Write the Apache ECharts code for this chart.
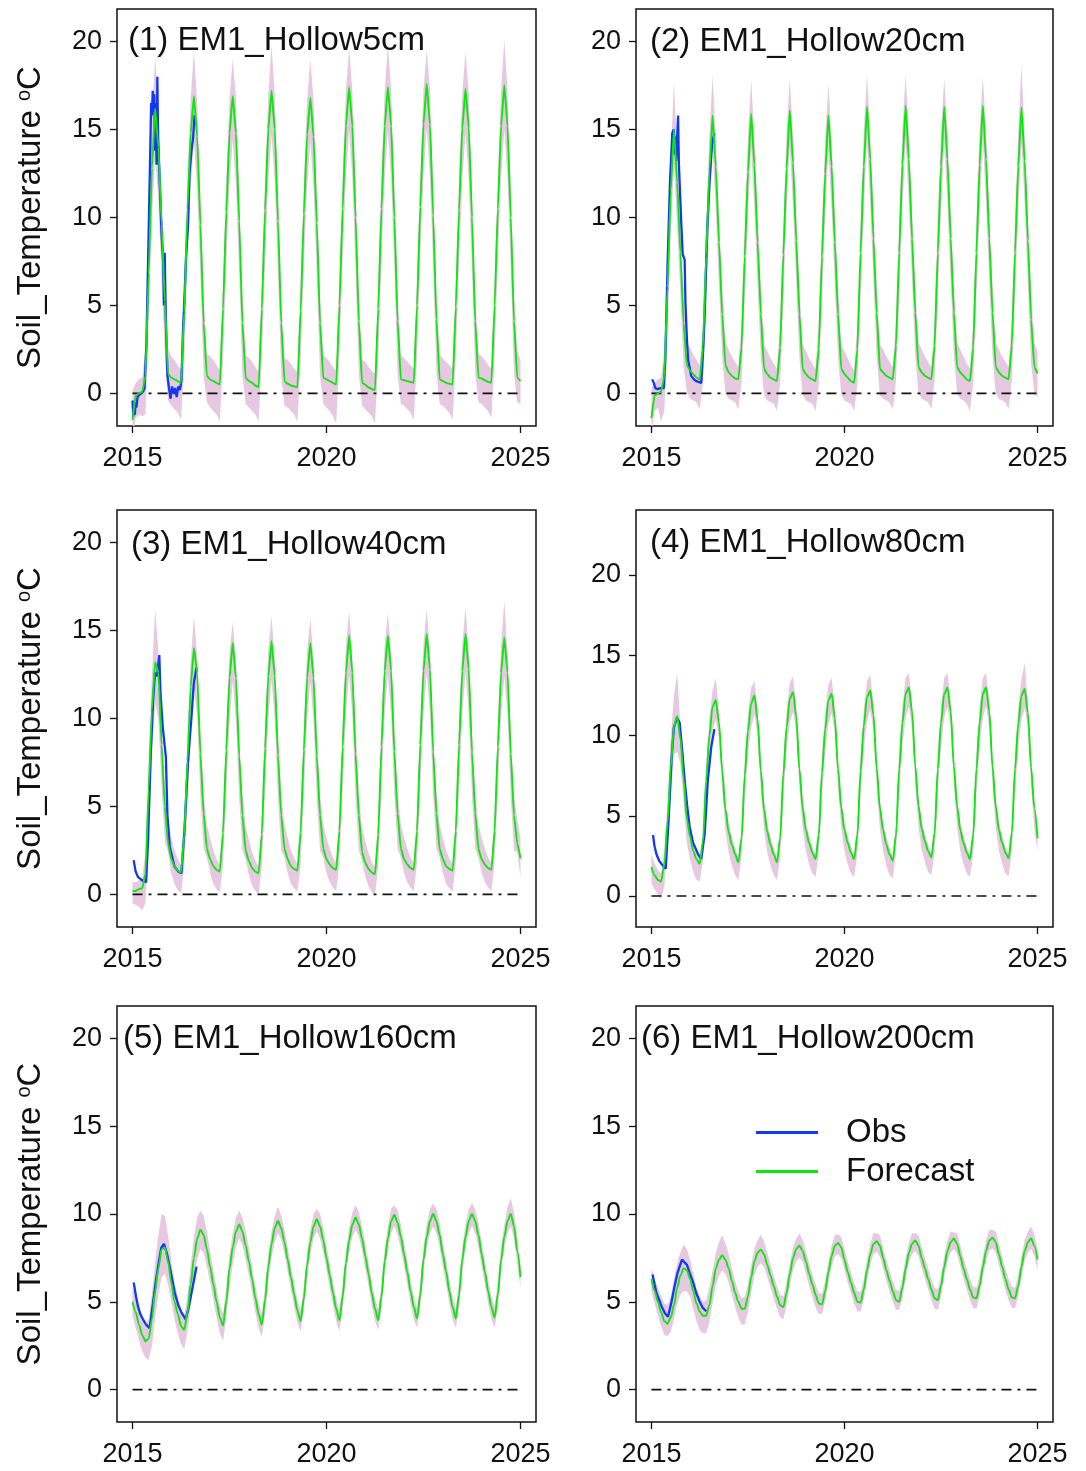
<!DOCTYPE html>
<html>
<head>
<meta charset="utf-8">
<script src="https://cdn.jsdelivr.net/npm/echarts@6/dist/echarts.min.js"></script>
<style>
  html, body { margin: 0; padding: 0; background: #fff; }
  #chart { width: 1086px; height: 1471px; }
</style>
</head>
<body>
<div id="chart"></div>
<script>
// Soil temperature forecasts, six depths, monthly values 2015.0 .. 2025.0 (121 points).

const xTicks = [2015, 2020, 2025];
const yTicks = [0, 5, 10, 15, 20];
const zeroLine = [[2015, 0], [2025, 0]];

const panelTitles = [
  "(1) EM1_Hollow5cm", "(2) EM1_Hollow20cm", "(3) EM1_Hollow40cm",
  "(4) EM1_Hollow80cm", "(5) EM1_Hollow160cm", "(6) EM1_Hollow200cm",
];

// (1) 5 cm
const p1Forecast = [
  -1.5, -0.1, 0.0, 0.1, 1.0, 6.8, 12.8, 16.2, 14.0, 9.6, 5.2, 1.1,
  0.9, 0.8, 0.7, 0.6, 4.6, 10.5, 14.8, 16.9, 14.6, 9.6, 4.0, 1.0,
  0.8, 0.7, 0.6, 0.5, 4.8, 10.3, 14.8, 16.9, 14.8, 9.8, 4.0, 0.9,
  0.7, 0.6, 0.45, 0.35, 4.8, 10.4, 15.0, 17.2, 15.0, 9.8, 4.0, 0.7,
  0.55, 0.45, 0.4, 0.35, 4.7, 10.2, 14.7, 16.8, 14.6, 9.7, 4.0, 0.9,
  0.8, 0.7, 0.6, 0.5, 5.0, 10.5, 15.2, 17.4, 15.2, 10.0, 4.1, 0.6,
  0.5, 0.35, 0.25, 0.2, 4.8, 10.5, 15.2, 17.4, 15.2, 10.0, 4.1, 0.8,
  0.75, 0.7, 0.65, 0.6, 5.0, 10.6, 15.3, 17.6, 15.3, 10.1, 4.2, 0.8,
  0.7, 0.6, 0.55, 0.5, 4.9, 10.4, 15.1, 17.3, 15.1, 10.0, 4.1, 0.9,
  0.85, 0.75, 0.65, 0.6, 5.0, 10.5, 15.2, 17.5, 15.2, 10.0, 4.1, 0.9,
  0.7,
];
const p1Upper = [
  0.2, 0.6, 0.8, 0.9, 2.5, 9.0, 15.5, 19.2, 16.0, 11.5, 7.0, 2.6,
  2.1, 1.9, 1.6, 1.3, 6.3, 12.3, 16.8, 19.5, 16.5, 11.3, 5.5, 2.3,
  2.1, 1.9, 1.6, 1.3, 6.3, 12.1, 16.8, 19.0, 16.8, 11.3, 5.5, 2.2,
  2.0, 1.8, 1.5, 1.2, 6.3, 12.2, 17.0, 19.8, 17.0, 11.3, 5.5, 2.0,
  1.9, 1.7, 1.4, 1.2, 6.2, 12.0, 16.7, 19.0, 16.6, 11.2, 5.5, 2.2,
  2.0, 1.8, 1.5, 1.3, 6.5, 12.3, 17.2, 19.6, 17.2, 11.5, 5.6, 1.9,
  1.8, 1.5, 1.3, 1.1, 6.3, 12.3, 17.2, 19.8, 17.2, 11.5, 5.6, 2.2,
  2.0, 1.8, 1.6, 1.4, 6.5, 12.4, 17.3, 19.5, 17.3, 11.6, 5.7, 2.2,
  2.0, 1.8, 1.6, 1.4, 6.4, 12.2, 17.1, 19.4, 17.1, 11.5, 5.6, 2.3,
  2.1, 1.9, 1.6, 1.4, 6.5, 12.3, 17.2, 20.1, 17.2, 11.5, 5.6, 2.4,
  1.9,
];
const p1Lower = [
  -2.5, -1.4, -1.2, -1.3, -1.2, 3.8, 9.8, 13.5, 11.0, 6.6, 2.2, -0.4,
  -0.7, -0.9, -1.1, -1.5, 1.6, 7.5, 11.8, 14.4, 11.6, 6.6, 1.0, -0.5,
  -0.8, -1.0, -1.2, -1.6, 1.8, 7.3, 11.8, 14.4, 11.8, 6.8, 1.0, -0.6,
  -0.8, -1.0, -1.2, -1.6, 1.8, 7.4, 12.0, 14.7, 12.0, 6.8, 1.0, -0.7,
  -0.8, -1.0, -1.2, -1.6, 1.7, 7.2, 11.7, 14.3, 11.6, 6.7, 1.0, -0.6,
  -0.8, -1.0, -1.3, -1.7, 2.0, 7.5, 12.2, 14.9, 12.2, 7.0, 1.1, -0.7,
  -0.9, -1.1, -1.3, -1.7, 1.8, 7.5, 12.2, 14.9, 12.2, 7.0, 1.1, -0.6,
  -0.7, -0.9, -1.1, -1.5, 2.0, 7.6, 12.3, 15.1, 12.3, 7.1, 1.2, -0.6,
  -0.7, -0.9, -1.1, -1.5, 1.9, 7.4, 12.1, 14.8, 12.1, 7.0, 1.1, -0.5,
  -0.6, -0.8, -1.0, -1.4, 2.0, 7.5, 12.2, 15.0, 12.2, 7.0, 1.1, -0.5,
  -0.6,
];
const p1Obs = [
  [2015.00, -0.4], [2015.02, -1.3], [2015.04, -0.9], [2015.06, -1.2], [2015.08, -0.5],
  [2015.10, -0.8], [2015.13, -0.2], [2015.17, -0.3], [2015.21, 0.0], [2015.27, 0.1],
  [2015.31, 0.3], [2015.36, 3.0], [2015.41, 8.5], [2015.45, 13.0], [2015.48, 16.5],
  [2015.50, 15.8], [2015.52, 17.2], [2015.54, 16.0], [2015.56, 17.0], [2015.58, 13.8],
  [2015.60, 16.5], [2015.62, 13.0], [2015.64, 18.0], [2015.66, 14.5], [2015.70, 12.0],
  [2015.75, 9.0], [2015.79, 7.5], [2015.81, 5.0], [2015.83, 8.0], [2015.86, 4.0],
  [2015.90, 1.0], [2015.94, 0.3], [2015.98, -0.3], [2016.02, 0.4], [2016.06, 0.0],
  [2016.10, 0.3], [2016.14, -0.2], [2016.18, 0.4], [2016.22, 0.2], [2016.26, 0.7],
  [2016.30, 3.5], [2016.34, 5.5], [2016.38, 7.8], [2016.43, 9.5], [2016.47, 12.5],
  [2016.52, 13.8], [2016.56, 14.5], [2016.60, 15.8], [2016.63, 15.3],
];

// (2) 20 cm
const p2Forecast = [
  -1.4, -0.1, 0.0, 0.1, 1.0, 6.0, 11.5, 15.0, 12.0, 8.0, 4.0, 1.6,
  1.3, 1.1, 0.9, 0.8, 2.6, 7.8, 12.6, 15.8, 12.9, 8.6, 4.5, 1.6,
  1.2, 1.0, 0.85, 0.8, 2.6, 7.8, 12.6, 15.9, 13.0, 8.6, 4.5, 1.4,
  1.1, 0.9, 0.8, 0.7, 2.6, 7.9, 12.8, 16.1, 13.1, 8.7, 4.5, 1.4,
  1.1, 0.9, 0.8, 0.7, 2.5, 7.8, 12.5, 15.8, 12.9, 8.6, 4.5, 1.4,
  1.1, 0.9, 0.7, 0.6, 2.5, 8.0, 12.9, 16.3, 13.3, 8.8, 4.6, 1.4,
  1.2, 1.0, 0.9, 0.8, 2.7, 8.0, 13.0, 16.35, 13.3, 8.8, 4.6, 1.5,
  1.2, 1.0, 0.9, 0.8, 2.7, 8.0, 12.9, 16.3, 13.3, 8.8, 4.6, 1.5,
  1.2, 1.0, 0.8, 0.7, 2.6, 8.0, 13.0, 16.35, 13.3, 8.8, 4.6, 1.5,
  1.2, 1.0, 0.9, 0.8, 2.7, 8.0, 12.9, 16.25, 13.2, 8.7, 4.2, 1.5,
  1.14,
];
const p2Upper = [
  0.3, 0.6, 0.8, 0.9, 2.5, 7.8, 13.5, 17.7, 13.5, 9.5, 5.5, 2.9,
  2.6, 2.2, 1.9, 1.6, 4.1, 9.6, 14.6, 18.1, 14.4, 10.1, 6.0, 2.9,
  2.5, 2.1, 1.8, 1.5, 4.1, 9.6, 14.6, 17.8, 14.5, 10.1, 6.0, 2.8,
  2.4, 2.0, 1.7, 1.4, 4.1, 9.7, 14.8, 17.9, 14.6, 10.2, 6.0, 2.8,
  2.4, 2.0, 1.7, 1.4, 4.0, 9.6, 14.5, 17.6, 14.4, 10.1, 6.0, 2.8,
  2.4, 2.0, 1.6, 1.3, 4.0, 9.8, 14.9, 18.1, 14.8, 10.3, 6.1, 2.8,
  2.5, 2.1, 1.8, 1.5, 4.2, 9.8, 15.0, 18.1, 14.8, 10.3, 6.1, 2.9,
  2.5, 2.1, 1.8, 1.5, 4.2, 9.8, 14.9, 17.9, 14.8, 10.3, 6.1, 2.9,
  2.5, 2.1, 1.7, 1.4, 4.1, 9.8, 15.0, 18.0, 14.8, 10.3, 6.1, 2.9,
  2.5, 2.1, 1.8, 1.5, 4.2, 9.8, 14.9, 18.65, 14.7, 10.2, 5.7, 2.9,
  2.4,
];
const p2Lower = [
  -2.2, -1.0, -0.8, -1.6, -1.0, 3.5, 9.0, 13.0, 9.5, 5.5, 1.5, 0.1,
  -0.3, -0.4, -0.5, -0.9, 0.6, 5.3, 10.1, 13.8, 10.4, 6.1, 2.0, 0.0,
  -0.3, -0.4, -0.5, -0.9, 0.6, 5.3, 10.1, 13.9, 10.5, 6.1, 2.0, -0.1,
  -0.4, -0.5, -0.6, -1.0, 0.6, 5.4, 10.3, 14.1, 10.6, 6.2, 2.0, -0.1,
  -0.4, -0.5, -0.6, -1.0, 0.5, 5.3, 10.0, 13.8, 10.4, 6.1, 2.0, -0.1,
  -0.4, -0.5, -0.6, -1.0, 0.5, 5.5, 10.4, 14.3, 10.8, 6.3, 2.1, -0.1,
  -0.3, -0.4, -0.5, -0.9, 0.7, 5.5, 10.5, 14.35, 10.8, 6.3, 2.1, 0.0,
  -0.3, -0.4, -0.5, -0.9, 0.7, 5.5, 10.4, 14.3, 10.8, 6.3, 2.1, 0.0,
  -0.3, -0.4, -0.6, -1.0, 0.6, 5.5, 10.5, 14.35, 10.8, 6.3, 2.1, 0.0,
  -0.3, -0.4, -0.5, -0.9, 0.7, 5.5, 10.4, 14.25, 10.7, 6.2, 1.7, 0.0,
  -0.2,
];
const p2Obs = [
  [2015.02, 0.8], [2015.06, 0.6], [2015.10, 0.3], [2015.16, 0.25], [2015.24, 0.3],
  [2015.32, 0.3], [2015.36, 2.0], [2015.42, 7.5], [2015.48, 12.0], [2015.54, 14.8],
  [2015.58, 15.0], [2015.60, 13.6], [2015.62, 14.6], [2015.64, 13.2], [2015.66, 14.3],
  [2015.69, 15.8], [2015.71, 13.1], [2015.77, 9.8], [2015.81, 7.9], [2015.86, 7.6],
  [2015.88, 5.2], [2015.92, 3.0], [2015.95, 1.9], [2016.03, 1.0], [2016.10, 0.8],
  [2016.16, 0.7], [2016.29, 0.6], [2016.34, 2.5], [2016.38, 4.5], [2016.44, 9.0],
  [2016.50, 11.9], [2016.57, 14.2], [2016.63, 14.8],
];

// (3) 40 cm
const p3Forecast = [
  0.2, 0.2, 0.3, 0.35, 1.2, 6.0, 10.5, 13.2, 12.6, 8.5, 5.0, 2.9,
  2.0, 1.6, 1.35, 1.25, 3.4, 7.6, 11.8, 14.0, 12.6, 8.0, 4.6, 2.6,
  2.0, 1.6, 1.4, 1.3, 3.5, 8.2, 12.3, 14.3, 12.3, 7.9, 4.5, 2.5,
  1.9, 1.5, 1.3, 1.2, 3.4, 8.3, 12.4, 14.4, 12.4, 7.9, 4.5, 2.6,
  2.0, 1.6, 1.45, 1.35, 3.5, 8.2, 12.3, 14.3, 12.3, 7.9, 4.5, 2.6,
  2.0, 1.7, 1.5, 1.4, 3.6, 8.4, 12.6, 14.7, 12.6, 8.0, 4.5, 2.4,
  1.8, 1.45, 1.25, 1.15, 3.4, 8.4, 12.7, 14.7, 12.7, 8.1, 4.6, 2.6,
  2.0, 1.7, 1.5, 1.4, 3.6, 8.5, 12.7, 14.8, 12.8, 8.1, 4.6, 2.6,
  2.0, 1.6, 1.45, 1.35, 3.6, 8.5, 12.7, 14.8, 12.8, 8.1, 4.6, 2.6,
  2.0, 1.7, 1.5, 1.4, 3.6, 8.4, 12.6, 14.6, 12.6, 8.0, 4.5, 2.9,
  2.05,
];
const p3Upper = [
  0.7, 0.7, 0.8, 0.9, 2.5, 7.5, 12.5, 16.2, 13.8, 9.5, 6.2, 4.3,
  3.2, 2.5, 2.0, 1.7, 4.4, 8.9, 13.3, 15.8, 13.6, 9.0, 5.8, 4.0,
  3.2, 2.5, 2.0, 1.7, 4.5, 9.5, 13.8, 15.5, 13.3, 8.9, 5.7, 3.9,
  3.1, 2.4, 1.9, 1.6, 4.4, 9.6, 13.9, 15.8, 13.4, 8.9, 5.7, 4.0,
  3.2, 2.5, 2.05, 1.75, 4.5, 9.5, 13.8, 15.7, 13.3, 8.9, 5.7, 4.0,
  3.2, 2.6, 2.1, 1.8, 4.6, 9.7, 14.1, 16.1, 13.6, 9.0, 5.7, 3.8,
  3.0, 2.35, 1.85, 1.55, 4.4, 9.7, 14.2, 16.0, 13.7, 9.1, 5.8, 4.0,
  3.2, 2.6, 2.1, 1.8, 4.6, 9.8, 14.2, 16.2, 13.8, 9.1, 5.8, 4.0,
  3.2, 2.5, 2.05, 1.75, 4.6, 9.8, 14.2, 16.3, 13.8, 9.1, 5.8, 4.0,
  3.2, 2.6, 2.1, 1.8, 4.6, 9.7, 14.1, 16.7, 13.6, 9.0, 5.7, 4.3,
  3.2,
];
const p3Lower = [
  -0.5, -0.6, -0.7, -0.9, -0.5, 3.5, 8.0, 10.8, 10.0, 6.0, 3.0, 2.4,
  1.2, 0.6, 0.25, 0.05, 1.6, 5.1, 9.3, 11.8, 10.1, 5.5, 2.6, 2.1,
  1.2, 0.6, 0.3, 0.1, 1.7, 5.7, 9.8, 12.1, 9.8, 5.4, 2.5, 2.0,
  1.1, 0.5, 0.2, 0.0, 1.6, 5.8, 9.9, 12.2, 9.9, 5.4, 2.5, 2.1,
  1.2, 0.6, 0.35, 0.15, 1.7, 5.7, 9.8, 12.1, 9.8, 5.4, 2.5, 2.1,
  1.2, 0.7, 0.4, 0.2, 1.8, 5.9, 10.1, 12.5, 10.1, 5.5, 2.5, 1.9,
  1.0, 0.45, 0.15, -0.05, 1.6, 5.9, 10.2, 12.5, 10.2, 5.6, 2.6, 2.1,
  1.2, 0.7, 0.4, 0.2, 1.8, 6.0, 10.2, 12.6, 10.3, 5.6, 2.6, 2.1,
  1.2, 0.6, 0.35, 0.15, 1.8, 6.0, 10.2, 12.6, 10.3, 5.6, 2.6, 2.1,
  1.2, 0.7, 0.4, 0.2, 1.8, 5.9, 10.1, 12.4, 10.1, 5.5, 2.5, 2.4,
  1.0,
];
const p3Obs = [
  [2015.03, 1.95], [2015.08, 1.3], [2015.14, 1.0], [2015.25, 0.8], [2015.35, 0.7],
  [2015.40, 3.0], [2015.47, 8.0], [2015.53, 11.0], [2015.58, 12.6], [2015.63, 12.4],
  [2015.66, 13.0], [2015.69, 13.6], [2015.72, 11.5], [2015.78, 9.5], [2015.86, 7.8],
  [2015.90, 4.5], [2015.96, 2.7], [2016.08, 1.6], [2016.18, 1.3], [2016.26, 1.2],
  [2016.34, 3.7], [2016.43, 7.5], [2016.52, 10.1], [2016.58, 12.0], [2016.65, 12.9],
];

// (4) 80 cm
const p4Forecast = [
  1.8, 1.3, 1.0, 0.9, 2.0, 4.6, 8.0, 10.6, 11.2, 9.8, 7.3, 4.8,
  3.7, 2.8, 2.3, 2.0, 3.4, 7.2, 10.0, 11.8, 12.2, 10.8, 7.8, 5.4,
  4.0, 3.2, 2.6, 2.1, 3.6, 7.5, 10.3, 12.0, 12.5, 11.0, 7.8, 5.4,
  4.0, 3.2, 2.6, 2.1, 3.6, 7.6, 10.5, 12.3, 12.7, 11.2, 7.9, 5.5,
  4.1, 3.3, 2.7, 2.3, 3.8, 7.7, 10.4, 12.2, 12.6, 11.1, 7.9, 5.5,
  4.1, 3.3, 2.7, 2.3, 3.8, 7.8, 10.6, 12.4, 12.8, 11.3, 8.0, 5.5,
  4.1, 3.2, 2.6, 2.2, 3.8, 7.9, 10.8, 12.6, 13.0, 11.5, 8.1, 5.6,
  4.2, 3.4, 2.8, 2.4, 3.9, 7.9, 10.8, 12.6, 13.0, 11.5, 8.1, 5.6,
  4.1, 3.3, 2.7, 2.3, 3.8, 7.9, 10.8, 12.6, 13.0, 11.5, 8.1, 5.6,
  4.1, 3.3, 2.7, 2.35, 3.9, 7.9, 10.7, 12.5, 12.9, 11.4, 8.0, 5.5,
  3.6,
];
const p4Upper = [
  2.6, 2.0, 1.6, 1.4, 2.8, 6.0, 9.8, 12.5, 13.9, 10.6, 8.0, 5.4,
  4.2, 3.3, 2.7, 2.3, 4.0, 8.2, 11.0, 12.8, 13.6, 11.4, 8.3, 5.9,
  4.5, 3.7, 3.0, 2.4, 4.2, 8.5, 11.3, 13.0, 13.4, 11.6, 8.3, 5.9,
  4.5, 3.7, 3.0, 2.4, 4.2, 8.6, 11.5, 13.3, 13.7, 11.8, 8.4, 6.0,
  4.6, 3.8, 3.1, 2.6, 4.4, 8.7, 11.4, 13.2, 13.6, 11.7, 8.4, 6.0,
  4.6, 3.8, 3.1, 2.6, 4.4, 8.8, 11.6, 13.4, 13.8, 11.9, 8.5, 6.0,
  4.6, 3.7, 3.0, 2.5, 4.4, 8.9, 11.8, 13.6, 13.9, 12.1, 8.6, 6.1,
  4.7, 3.9, 3.2, 2.7, 4.5, 8.9, 11.8, 13.6, 13.9, 12.1, 8.6, 6.1,
  4.6, 3.8, 3.1, 2.6, 4.4, 8.9, 11.8, 13.6, 13.9, 12.1, 8.6, 6.1,
  4.6, 3.8, 3.1, 2.65, 4.5, 8.9, 11.7, 13.5, 14.5, 12.0, 8.5, 6.0,
  4.0,
];
const p4Lower = [
  0.8, 0.4, 0.1, -0.2, 0.6, 3.0, 6.2, 8.8, 9.0, 8.2, 5.8, 3.3,
  2.3, 1.5, 1.0, 0.9, 2.2, 5.7, 8.5, 10.3, 11.0, 9.8, 6.6, 4.1,
  2.7, 1.9, 1.3, 1.0, 2.4, 6.0, 8.8, 10.5, 11.3, 10.0, 6.6, 4.1,
  2.7, 1.9, 1.3, 1.0, 2.4, 6.1, 9.0, 10.8, 11.5, 10.2, 6.7, 4.2,
  2.8, 2.0, 1.4, 1.2, 2.6, 6.2, 8.9, 10.7, 11.4, 10.1, 6.7, 4.2,
  2.8, 2.0, 1.4, 1.2, 2.6, 6.3, 9.1, 10.9, 11.6, 10.3, 6.8, 4.2,
  2.8, 1.9, 1.3, 1.1, 2.6, 6.4, 9.3, 11.1, 11.8, 10.5, 6.9, 4.3,
  2.9, 2.1, 1.5, 1.3, 2.7, 6.4, 9.3, 11.1, 11.8, 10.5, 6.9, 4.3,
  2.8, 2.0, 1.4, 1.2, 2.6, 6.4, 9.3, 11.1, 11.8, 10.5, 6.9, 4.3,
  2.8, 2.0, 1.4, 1.25, 2.7, 6.4, 9.2, 11.0, 11.7, 10.4, 6.8, 4.2,
  2.8,
];
const p4Obs = [
  [2015.04, 3.8], [2015.08, 3.1], [2015.13, 2.6], [2015.20, 2.2], [2015.26, 2.0],
  [2015.37, 1.7], [2015.45, 5.0], [2015.52, 8.5], [2015.58, 10.5], [2015.66, 11.1],
  [2015.73, 10.8], [2015.80, 9.0], [2015.86, 7.2], [2015.93, 5.5], [2015.99, 4.3],
  [2016.08, 3.3], [2016.21, 2.6], [2016.29, 2.3], [2016.38, 3.9], [2016.46, 7.2],
  [2016.55, 9.3], [2016.63, 10.4],
];

// (5) 160 cm
const p5Forecast = [
  5.0, 4.4, 3.7, 3.1, 2.75, 2.9, 4.0, 5.6, 6.9, 8.0, 8.1, 7.3,
  6.1, 5.0, 4.3, 3.6, 3.4, 4.4, 6.0, 7.5, 8.6, 9.1, 8.8, 8.0,
  7.0, 6.0, 5.0, 4.1, 3.65, 5.0, 6.9, 8.1, 9.0, 9.4, 9.0, 8.2,
  7.3, 6.3, 5.2, 4.3, 3.7, 5.1, 7.0, 8.3, 9.2, 9.6, 9.2, 8.4,
  7.4, 6.4, 5.4, 4.5, 3.9, 5.2, 7.1, 8.4, 9.3, 9.7, 9.3, 8.5,
  7.5, 6.5, 5.5, 4.6, 3.95, 5.3, 7.2, 8.5, 9.4, 9.8, 9.4, 8.6,
  7.6, 6.6, 5.5, 4.6, 3.95, 5.3, 7.3, 8.6, 9.6, 9.95, 9.5, 8.7,
  7.7, 6.7, 5.6, 4.7, 4.05, 5.4, 7.4, 8.7, 9.6, 10.0, 9.6, 8.8,
  7.7, 6.7, 5.6, 4.7, 4.05, 5.4, 7.4, 8.7, 9.6, 10.0, 9.6, 8.8,
  7.7, 6.7, 5.6, 4.7, 4.1, 5.4, 7.4, 8.7, 9.6, 10.0, 9.3, 7.9,
  6.4,
];
const p5Upper = [
  5.8, 5.3, 4.6, 4.0, 3.6, 4.0, 5.5, 7.3, 8.8, 10.0, 9.9, 8.8,
  7.3, 6.1, 5.3, 4.5, 4.2, 5.4, 7.1, 8.7, 9.8, 10.2, 9.9, 9.0,
  7.9, 6.8, 5.8, 4.8, 4.3, 5.8, 7.7, 8.9, 9.8, 10.2, 9.8, 9.0,
  8.1, 7.0, 5.9, 5.0, 4.3, 5.8, 7.7, 9.0, 9.9, 10.4, 9.9, 9.1,
  8.1, 7.1, 6.1, 5.1, 4.5, 5.9, 7.8, 9.1, 10.0, 10.3, 10.0, 9.2,
  8.2, 7.2, 6.2, 5.2, 4.55, 6.0, 7.9, 9.2, 10.1, 10.5, 10.1, 9.3,
  8.3, 7.3, 6.2, 5.2, 4.55, 6.0, 8.0, 9.3, 10.3, 10.5, 10.2, 9.4,
  8.4, 7.4, 6.3, 5.3, 4.65, 6.1, 8.1, 9.4, 10.3, 10.6, 10.3, 9.5,
  8.4, 7.4, 6.3, 5.3, 4.65, 6.1, 8.1, 9.4, 10.3, 10.6, 10.3, 9.5,
  8.4, 7.4, 6.3, 5.3, 4.7, 6.1, 8.1, 9.4, 10.4, 10.9, 10.1, 8.7,
  7.0,
];
const p5Lower = [
  4.2, 3.5, 2.8, 2.2, 1.8, 1.7, 2.5, 4.1, 5.4, 6.4, 6.6, 6.0,
  5.0, 4.0, 3.2, 2.6, 2.3, 3.3, 4.8, 6.3, 7.4, 8.0, 7.8, 7.0,
  6.1, 5.1, 4.1, 3.2, 2.8, 4.0, 5.9, 7.1, 8.1, 8.6, 8.2, 7.4,
  6.5, 5.5, 4.4, 3.5, 3.0, 4.3, 6.2, 7.5, 8.4, 8.9, 8.5, 7.7,
  6.7, 5.7, 4.7, 3.8, 3.3, 4.5, 6.4, 7.7, 8.6, 9.0, 8.6, 7.8,
  6.8, 5.8, 4.8, 3.9, 3.3, 4.6, 6.5, 7.8, 8.7, 9.1, 8.7, 7.9,
  6.9, 5.9, 4.8, 3.9, 3.4, 4.6, 6.6, 7.9, 8.9, 9.3, 8.8, 8.0,
  7.0, 6.0, 4.9, 4.0, 3.5, 4.7, 6.7, 8.0, 8.9, 9.3, 8.9, 8.1,
  7.0, 6.0, 4.9, 4.0, 3.5, 4.7, 6.7, 8.0, 8.9, 9.3, 8.9, 8.1,
  7.0, 6.0, 4.9, 4.0, 3.5, 4.7, 6.7, 8.0, 8.9, 9.3, 8.6, 7.2,
  5.8,
];
const p5Obs = [
  [2015.03, 6.1], [2015.09, 5.3], [2015.14, 4.75], [2015.20, 4.3], [2015.27, 4.0],
  [2015.35, 3.7], [2015.44, 3.5], [2015.52, 4.8], [2015.61, 6.3], [2015.68, 7.3],
  [2015.74, 8.07], [2015.81, 8.3], [2015.88, 7.8], [2015.96, 7.0], [2016.09, 5.5],
  [2016.18, 4.8], [2016.26, 4.4], [2016.37, 4.0], [2016.45, 4.7], [2016.52, 5.5],
  [2016.59, 6.3], [2016.65, 7.0],
];

// (6) 200 cm
const p6Forecast = [
  6.3, 5.6, 5.0, 4.4, 3.9, 3.75, 4.1, 4.8, 5.8, 6.5, 6.9, 6.8,
  6.3, 5.6, 4.9, 4.45, 4.2, 4.2, 4.8, 5.9, 6.9, 7.4, 7.65, 7.4,
  6.9, 6.2, 5.5, 5.0, 4.6, 4.6, 5.3, 6.4, 7.3, 7.8, 7.97, 7.7,
  7.1, 6.5, 5.9, 5.3, 4.8, 4.7, 5.5, 6.6, 7.5, 8.0, 8.2, 7.9,
  7.3, 6.6, 6.0, 5.4, 4.9, 4.85, 5.6, 6.7, 7.6, 8.2, 8.35, 8.1,
  7.4, 6.7, 6.1, 5.5, 5.0, 4.95, 5.7, 6.8, 7.7, 8.3, 8.45, 8.2,
  7.5, 6.8, 6.2, 5.6, 5.1, 5.0, 5.8, 6.9, 7.8, 8.3, 8.5, 8.2,
  7.5, 6.9, 6.3, 5.7, 5.2, 5.1, 5.9, 7.0, 7.9, 8.4, 8.6, 8.3,
  7.6, 6.9, 6.3, 5.7, 5.25, 5.2, 5.9, 7.0, 7.9, 8.5, 8.65, 8.4,
  7.7, 7.0, 6.3, 5.7, 5.25, 5.2, 5.9, 7.0, 7.9, 8.4, 8.6, 8.2,
  7.4,
];
const p6Upper = [
  6.9, 6.3, 5.8, 5.3, 4.9, 4.8, 5.3, 6.3, 7.2, 7.8, 8.26, 8.0,
  7.4, 6.6, 5.8, 5.3, 5.0, 5.1, 5.8, 6.8, 7.8, 8.4, 8.8, 8.3,
  7.7, 6.9, 6.2, 5.6, 5.2, 5.3, 6.0, 7.1, 8.0, 8.5, 8.83, 8.4,
  7.8, 7.1, 6.5, 5.9, 5.4, 5.3, 6.1, 7.2, 8.1, 8.6, 8.9, 8.5,
  7.9, 7.2, 6.6, 6.0, 5.5, 5.45, 6.2, 7.3, 8.2, 8.8, 8.85, 8.7,
  8.0, 7.3, 6.7, 6.1, 5.6, 5.55, 6.3, 7.4, 8.3, 8.9, 8.9, 8.8,
  8.1, 7.4, 6.8, 6.2, 5.7, 5.6, 6.4, 7.5, 8.4, 8.9, 8.9, 8.8,
  8.1, 7.5, 6.9, 6.3, 5.8, 5.7, 6.5, 7.6, 8.5, 9.0, 8.95, 8.9,
  8.2, 7.5, 6.9, 6.3, 5.85, 5.8, 6.5, 7.6, 8.5, 9.1, 9.1, 9.0,
  8.3, 7.6, 6.9, 6.3, 5.85, 5.8, 6.5, 7.6, 8.5, 9.0, 9.3, 8.8,
  8.0,
];
const p6Lower = [
  5.6, 4.9, 4.2, 3.6, 3.1, 3.04, 3.3, 4.0, 4.9, 5.4, 5.6, 5.6,
  5.3, 4.6, 3.9, 3.4, 3.2, 3.2, 3.8, 4.9, 5.9, 6.5, 6.8, 6.6,
  6.1, 5.4, 4.7, 4.1, 3.7, 3.7, 4.4, 5.5, 6.5, 7.0, 7.2, 7.0,
  6.4, 5.8, 5.2, 4.6, 4.1, 4.0, 4.8, 5.9, 6.8, 7.3, 7.5, 7.3,
  6.6, 5.9, 5.3, 4.7, 4.3, 4.3, 5.0, 6.1, 7.0, 7.6, 7.7, 7.5,
  6.8, 6.1, 5.5, 4.9, 4.45, 4.45, 5.1, 6.2, 7.1, 7.7, 7.85, 7.6,
  6.9, 6.2, 5.6, 5.0, 4.55, 4.55, 5.2, 6.3, 7.2, 7.7, 7.9, 7.6,
  6.9, 6.3, 5.7, 5.1, 4.6, 4.55, 5.3, 6.4, 7.3, 7.8, 8.0, 7.7,
  7.0, 6.3, 5.7, 5.1, 4.65, 4.6, 5.3, 6.4, 7.3, 7.9, 8.05, 7.8,
  7.1, 6.4, 5.7, 5.1, 4.65, 4.65, 5.3, 6.4, 7.3, 7.8, 8.0, 7.6,
  6.8,
];
const p6Obs = [
  [2015.03, 6.55], [2015.08, 6.0], [2015.13, 5.5], [2015.20, 5.1], [2015.26, 4.75],
  [2015.35, 4.35], [2015.43, 4.14], [2015.52, 5.0], [2015.60, 5.9], [2015.67, 6.6],
  [2015.73, 7.0], [2015.79, 7.4], [2015.84, 7.5], [2015.92, 7.1], [2015.99, 6.65],
  [2016.08, 6.1], [2016.16, 5.5], [2016.25, 5.0], [2016.33, 4.65], [2016.42, 4.46],
];

// monthly time stamps shared by all forecast arrays
const months = [];
for (let i = 0; i <= 120; i++) months.push(2015 + i / 12);

const FONT = '"Liberation Sans", Arial, Helvetica, sans-serif';
const INK = "#111111";
const OBS_COLOR = "#1237f5";
const FC_COLOR = "#0fe60f";
const BAND_COLOR = "#e6c8e0";

const panels = [
  { fc: p1Forecast, lo: p1Lower, hi: p1Upper, obs: p1Obs, grid: [117, 9, 419, 417], yMin: -1.85, yMax: 21.85, title: [128, 24], yName: true, smooth: 0.15 },
  { fc: p2Forecast, lo: p2Lower, hi: p2Upper, obs: p2Obs, grid: [636, 9, 417, 417], yMin: -1.85, yMax: 21.85, title: [650, 25], yName: false, smooth: 0.15 },
  { fc: p3Forecast, lo: p3Lower, hi: p3Upper, obs: p3Obs, grid: [117, 510, 419, 417], yMin: -1.85, yMax: 21.85, title: [131, 528], yName: true, smooth: 0.15 },
  { fc: p4Forecast, lo: p4Lower, hi: p4Upper, obs: p4Obs, grid: [636, 510, 417, 417], yMin: -1.93, yMax: 24.05, title: [650, 526], yName: false, smooth: 0.3 },
  { fc: p5Forecast, lo: p5Lower, hi: p5Upper, obs: p5Obs, grid: [117, 1006, 419, 416], yMin: -1.85, yMax: 21.85, title: [123, 1022], yName: true, smooth: 0.3 },
  { fc: p6Forecast, lo: p6Lower, hi: p6Upper, obs: p6Obs, grid: [636, 1006, 417, 416], yMin: -1.85, yMax: 21.85, title: [641, 1022], yName: false, smooth: 0.3 },
];

let bandSeries = (idx, lo, hi) => ({
  type: "custom",
  xAxisIndex: idx,
  yAxisIndex: idx,
  silent: true,
  clip: true,
  z: 1,
  data: months.map((t, i) => [t, lo[i], hi[i]]),
  encode: { x: 0, y: [1, 2] },
  renderItem: (params, api) => {
    if (params.dataIndex !== 0) return;
    let upper = [];
    let lower = [];
    for (let i = 0; i < months.length; i++) {
      upper.push(api.coord([months[i], hi[i]]));
      lower.push(api.coord([months[i], lo[i]]));
    }
    return {
      type: "polygon",
      shape: { points: upper.concat(lower.reverse()) },
      style: { fill: BAND_COLOR },
    };
  },
});

let plainNumber = (v) => String(Math.round(v));

let grids = [], xAxes = [], yAxes = [], titles = [], series = [];

panels.forEach((p, i) => {
  grids.push({
    left: p.grid[0], top: p.grid[1], width: p.grid[2], height: p.grid[3],
    show: true, borderColor: INK, borderWidth: 1.5, backgroundColor: "transparent",
    containLabel: false, outerBoundsMode: "none",
  });

  xAxes.push({
    gridIndex: i, type: "value", min: 2014.6, max: 2025.4,
    axisLine: { show: false, onZero: false }, splitLine: { show: false },
    axisTick: { show: true, customValues: xTicks, length: 7, lineStyle: { color: INK, width: 1.3 } },
    axisLabel: { customValues: xTicks, formatter: plainNumber, fontSize: 27, lineHeight: 27, margin: 19, color: INK, fontFamily: FONT },
  });

  let yAxis = {
    gridIndex: i, type: "value", min: p.yMin, max: p.yMax,
    axisLine: { show: false, onZero: false }, splitLine: { show: false },
    axisTick: { show: true, customValues: yTicks, length: 7, lineStyle: { color: INK, width: 1.3 } },
    axisLabel: { customValues: yTicks, formatter: plainNumber, fontSize: 27, margin: 15, color: INK, fontFamily: FONT },
  };
  if (p.yName) {
    yAxis.name = "Soil_Temperature {s|o}C";
    yAxis.nameLocation = "middle";
    yAxis.nameRotate = 90;
    yAxis.nameGap = 70;
    yAxis.nameTextStyle = {
      fontSize: 33, lineHeight: 33, color: INK, fontFamily: FONT,
      rich: { s: { fontSize: 20, lineHeight: 33, verticalAlign: "top", color: INK, fontFamily: FONT } },
    };
  }
  yAxes.push(yAxis);

  titles.push({
    text: panelTitles[i], left: p.title[0], top: p.title[1], padding: 0,
    textStyle: { fontSize: 33, lineHeight: 33, fontWeight: "normal", color: INK, fontFamily: FONT },
  });

  series.push(bandSeries(i, p.lo, p.hi));
  series.push({
    type: "line", xAxisIndex: i, yAxisIndex: i, data: zeroLine, silent: true,
    showSymbol: false, symbol: "none", z: 2,
    lineStyle: { color: INK, width: 1.7, type: [10, 6, 3, 6] },
  });
  series.push({
    name: "Obs", type: "line", xAxisIndex: i, yAxisIndex: i, data: p.obs,
    showSymbol: false, symbol: "none", z: 3,
    itemStyle: { color: OBS_COLOR }, lineStyle: { color: OBS_COLOR, width: 2.3 },
  });
  series.push({
    name: "Forecast", type: "line", xAxisIndex: i, yAxisIndex: i,
    data: months.map((t, k) => [t, p.fc[k]]),
    showSymbol: false, symbol: "none", z: 4, smooth: p.smooth, smoothMonotone: "x",
    itemStyle: { color: FC_COLOR }, lineStyle: { color: FC_COLOR, width: 1.9 },
  });
});

let chart = echarts.init(document.getElementById("chart"), null, { renderer: "canvas" });
chart.setOption({
  animation: false,
  backgroundColor: "#ffffff",
  textStyle: { fontFamily: FONT },
  title: titles,
  grid: grids,
  xAxis: xAxes,
  yAxis: yAxes,
  legend: {
    data: ["Obs", "Forecast"], selectedMode: false,
    orient: "vertical", left: 756, top: 1116, padding: 0,
    icon: "rect", itemWidth: 62, itemHeight: 3, itemGap: 6,
    textStyle: { fontSize: 33, lineHeight: 33, color: INK, fontFamily: FONT, padding: [0, 0, 0, 23] },
  },
  series: series,
});
</script>
</body>
</html>
